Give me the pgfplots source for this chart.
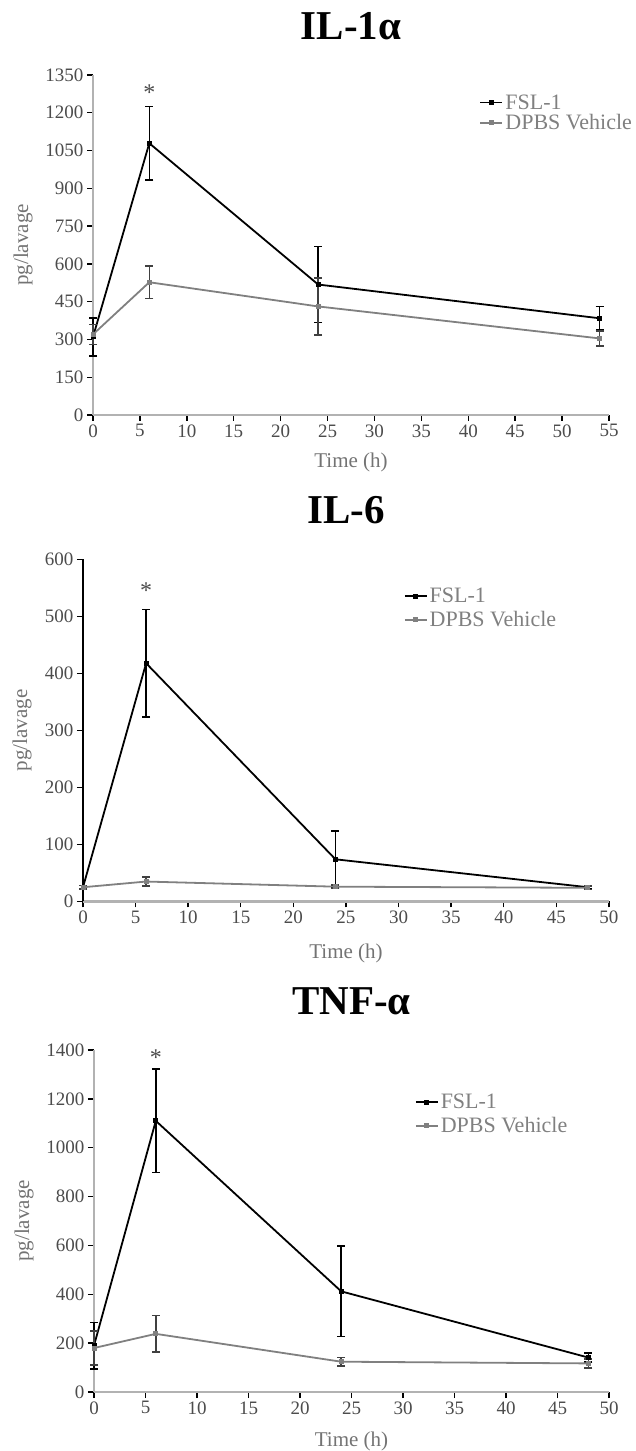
\documentclass[border=0pt]{standalone}
\usepackage{fontspec}
\setmainfont{Liberation Serif}
\usepackage{pgfplots}
\pgfplotsset{compat=1.18}
\pgfplotsset{
  panel/.style={
    scale only axis,
    axis lines=left,
    axis line style={-, line width=2.6pt, black!30},
    tick align=outside,
    major tick length=6pt,
    tick style={black, line width=1.4pt},
    xmin=0, ymin=0,
    clip=false,
    scaled ticks=false,
    /pgf/number format/assume math mode=true,
    /pgf/number format/1000 sep={},
    ticklabel style={font=\fontsize{19}{22}\selectfont, text=black!70},
    label style={font=\fontsize{21}{25}\selectfont, text=black!55},
    title style={font=\fontsize{41}{46}\selectfont\bfseries, at={(0.5,1)}, anchor=center, yshift=43pt},
    xlabel={Time (h)},
    ylabel={pg/lavage},
    ylabel style={at={(0,0.5)}, anchor=center, yshift=70pt},
    xlabel style={at={(0.5,0)}, anchor=center, yshift=-47pt},
    legend style={draw=none, fill=none, font=\fontsize{22}{26}\selectfont, text=black!50, anchor=north west, legend cell align=left},
    legend image code/.code={\draw[mark repeat=2,mark phase=2,##1] plot coordinates {(0pt,0pt)(11pt,0pt)(22pt,0pt)};},
  },
  fsl/.style={black, line width=1.8pt, mark=square*, mark size=1.6pt,
    error bars/.cd, y dir=both, y explicit,
    error bar style={black, line width=1.5pt},
    error mark options={black, line width=1.5pt, mark size=4pt, rotate=90}},
  dpbs/.style={black!50, line width=1.8pt, mark=square*, mark size=1.6pt,
    error bars/.cd, y dir=both, y explicit,
    error bar style={black!75, line width=1.5pt},
    error mark options={black!75, line width=1.5pt, mark size=4pt, rotate=90}},
}
\begin{document}
\begin{tikzpicture}
\useasboundingbox (0,0) rectangle (635pt,1451pt);
% Panel 1: IL-1alpha
\begin{axis}[panel, at={(93pt,1036pt)}, anchor=south west,
  width=516pt, height=340pt,
  xmax=55, ymax=1350,
  xtick={0,5,...,55}, ytick={0,150,...,1350},
  title={IL-1α},
  legend style={at={(0.743,0.955)}, row sep=0pt}]
\addplot[fsl] coordinates {(0,310) +- (0,75) (6,1079) +- (0,145) (24,518) +- (0,150) (54,384) +- (0,46)};
\addlegendentry{FSL-1}
\addplot[dpbs] coordinates {(0,320) +- (0,40) (6,527) +- (0,65) (24,431) +- (0,113) (54,304) +- (0,30)};
\addlegendentry{DPBS Vehicle}
\node[font=\fontsize{24}{28}\selectfont, text=black!70] at (axis cs:6,1278) {*};
\end{axis}
% Panel 2: IL-6
\begin{axis}[panel, at={(83pt,549.5pt)}, anchor=south west,
  width=526pt, height=342pt,
  xmax=50, ymax=600,
  xtick={0,5,...,50}, ytick={0,100,...,600},
  y axis line style={line width=2.2pt, black},
  title={IL-6},
  xlabel style={yshift=-5pt},
  ylabel style={yshift=-9pt},
  legend style={at={(0.604,0.928)}, row sep=3pt}]
\addplot[fsl] coordinates {(0,25) +- (0,3) (6,418) +- (0,94) (24,74) +- (0,50) (48,25) +- (0,3)};
\addlegendentry{FSL-1}
\addplot[dpbs] coordinates {(0,25) +- (0,3) (6,35) +- (0,8) (24,26) +- (0,3) (48,24) +- (0,3)};
\addlegendentry{DPBS Vehicle}
\node[font=\fontsize{24}{28}\selectfont, text=black!70] at (axis cs:6,546) {*};
\end{axis}
% Panel 3: TNF-alpha
\begin{axis}[panel, at={(94pt,59pt)}, anchor=south west,
  width=515pt, height=342pt,
  xmax=50, ymax=1400,
  xtick={0,5,...,50}, ytick={0,200,...,1400},
  title={TNF-α},
  xlabel style={yshift=-2pt},
  legend style={at={(0.617,0.883)}, row sep=3pt}]
\addplot[fsl] coordinates {(0,190) +- (0,95) (6,1110) +- (0,212) (24,412) +- (0,185) (48,141) +- (0,18)};
\addlegendentry{FSL-1}
\addplot[dpbs] coordinates {(0,180) +- (0,70) (6,238) +- (0,75) (24,124) +- (0,18) (48,117) +- (0,18)};
\addlegendentry{DPBS Vehicle}
\node[font=\fontsize{24}{28}\selectfont, text=black!70] at (axis cs:6,1369) {*};
\end{axis}
\end{tikzpicture}
\end{document}
